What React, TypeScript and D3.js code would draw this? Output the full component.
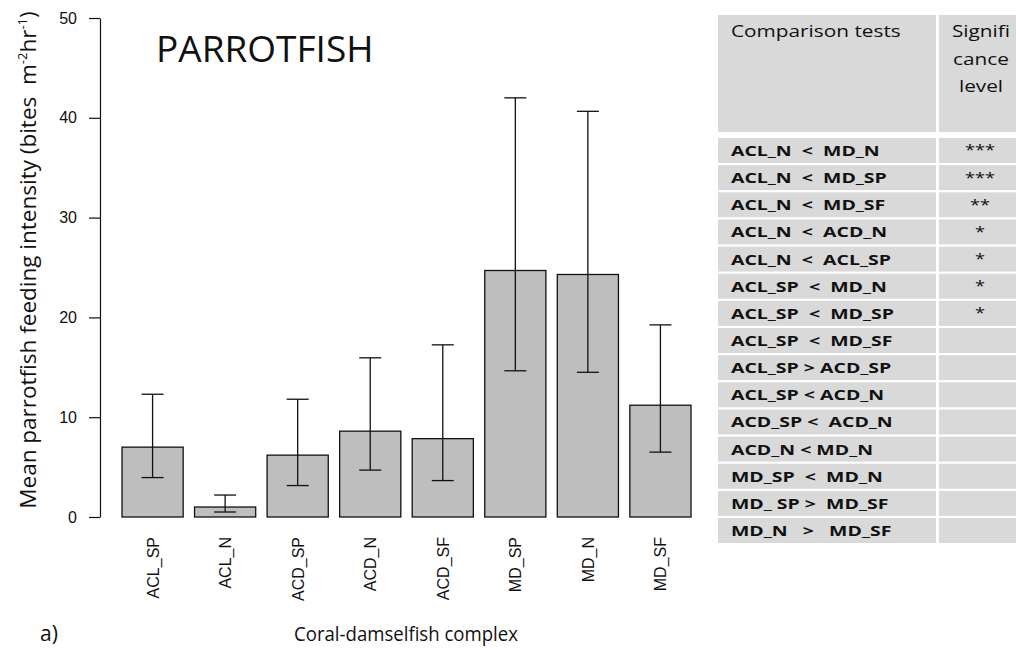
import { useEffect, useRef } from "react";
import * as d3 from "d3";

const categories = ["ACL_SP", "ACL_N", "ACD_SP", "ACD_N", "ACD_SF", "MD_SP", "MD_N", "MD_SF"];
const means = [7.0, 1.0, 6.2, 8.6, 7.85, 24.7, 24.3, 11.2];
const lowerErr = [3.95, 0.5, 3.15, 4.7, 3.65, 14.65, 14.5, 6.5];
const upperErr = [12.3, 2.2, 11.8, 15.95, 17.25, 42.0, 40.65, 19.25];
const yTicks = [0, 10, 20, 30, 40, 50];

const comparisons = [
  "ACL_N  <  MD_N",
  "ACL_N  <  MD_SP",
  "ACL_N  <  MD_SF",
  "ACL_N  <  ACD_N",
  "ACL_N  <  ACL_SP",
  "ACL_SP  <  MD_N",
  "ACL_SP  <  MD_SP",
  "ACL_SP  <  MD_SF",
  "ACL_SP > ACD_SP",
  "ACL_SP < ACD_N",
  "ACD_SP <  ACD_N",
  "ACD_N < MD_N",
  "MD_SP  <  MD_N",
  "MD_ SP >  MD_SF",
  "MD_N   >   MD_SF",
];
const significance = ["***", "***", "**", "*", "*", "*", "*", "", "", "", "", "", "", "", ""];
const headerLines = ["Signifi", "cance", "level"];

const W = 1016;
const H = 654;
const FONT = "'Open Sans', sans-serif";
const ARIAL = "'Liberation Sans', Arial, sans-serif";
// the table text in the original is a bit wider than Open Sans
const STRETCH = 1.3;

export default function App() {
  const svgRef = useRef<SVGSVGElement>(null);

  useEffect(() => {
    if (!svgRef.current) return;
    const svg = d3.select(svgRef.current);
    svg.selectAll("*").remove();

    const x = d3.scaleBand<string>().domain(categories).range([122, 691]).paddingInner(0.157);
    const y = d3.scaleLinear().domain([0, 50]).range([517, 18]);

    // bars
    svg.append("g")
      .selectAll("rect")
      .data(categories)
      .join("rect")
      .attr("x", (d) => x(d)!)
      .attr("y", (_, i) => y(means[i]))
      .attr("width", x.bandwidth())
      .attr("height", (_, i) => y(0) - y(means[i]))
      .attr("fill", "#bebebe")
      .attr("stroke", "#111")
      .attr("stroke-width", 1.3);

    // error bars
    const eb = svg.append("g").attr("stroke", "#111").attr("stroke-width", 1.3);
    categories.forEach((c, i) => {
      const cx = x(c)! + x.bandwidth() / 2;
      eb.append("line").attr("x1", cx).attr("x2", cx).attr("y1", y(lowerErr[i])).attr("y2", y(upperErr[i]));
      [lowerErr[i], upperErr[i]].forEach((v) => {
        eb.append("line").attr("x1", cx - 11).attr("x2", cx + 11).attr("y1", y(v)).attr("y2", y(v));
      });
    });

    // y axis
    const ya = svg.append("g")
      .attr("transform", "translate(100,0)")
      .call(d3.axisLeft(y).tickValues(yTicks).tickSize(11).tickSizeOuter(0).tickPadding(12));
    ya.select(".domain").attr("stroke", "#111").attr("stroke-width", 1.2);
    ya.selectAll(".tick line").attr("stroke", "#111").attr("stroke-width", 1.2);
    ya.selectAll(".tick text").attr("font-family", ARIAL).attr("font-size", 16).attr("fill", "#111");

    // x labels
    svg.append("g")
      .selectAll("text")
      .data(categories)
      .join("text")
      .attr("transform", (d) => `translate(${x(d)! + x.bandwidth() / 2 + 6},537) rotate(-90)`)
      .attr("text-anchor", "end")
      .attr("font-family", ARIAL)
      .attr("font-size", 16)
      .attr("fill", "#111")
      .text((d) => d);

    // y label
    const yl = svg.append("text")
      .attr("transform", "translate(36,260) rotate(-90)")
      .attr("text-anchor", "middle")
      .attr("font-family", FONT)
      .attr("font-size", 22.5)
      .attr("fill", "#111")
      .style("white-space", "pre");
    yl.append("tspan").text("Mean parrotfish feeding intensity (bites  m");
    yl.append("tspan").attr("font-size", 13).attr("dy", -9).text("-2");
    yl.append("tspan").attr("dy", 9).text("hr");
    yl.append("tspan").attr("font-size", 13).attr("dy", -9).text("-1");
    yl.append("tspan").attr("dy", 9).text(")");

    // title and captions
    svg.append("text").attr("x", 156).attr("y", 62).attr("font-family", FONT)
      .attr("font-size", 37).attr("fill", "#111").text("PARROTFISH");
    svg.append("text").attr("transform", "translate(406,641) scale(0.93,1)").attr("text-anchor", "middle")
      .attr("font-family", FONT).attr("font-size", 20).attr("fill", "#111").text("Coral-damselfish complex");
    svg.append("text").attr("x", 40).attr("y", 641).attr("font-family", FONT)
      .attr("font-size", 21).attr("fill", "#111").text("a)");

    // table
    const tx0 = 718, tx1 = 936, tx2 = 939, tx3 = 1016;
    const rowY = d3.scaleBand<number>().domain(d3.range(comparisons.length)).range([138, 543]).paddingInner(0.08);
    const tbl = svg.append("g");
    const stretched = (px: number, py: number) => `translate(${px},${py}) scale(${STRETCH},1)`;

    tbl.append("rect").attr("x", tx0).attr("y", 15).attr("width", tx1 - tx0).attr("height", 117).attr("fill", "#d9d9d9");
    tbl.append("rect").attr("x", tx2).attr("y", 15).attr("width", tx3 - tx2).attr("height", 117).attr("fill", "#d9d9d9");
    tbl.append("text").attr("transform", stretched(731, 37)).attr("font-family", FONT).attr("font-size", 16)
      .attr("fill", "#111").text("Comparison tests");
    headerLines.forEach((t, i) => {
      tbl.append("text").attr("transform", stretched(981, 37 + i * 27.5)).attr("text-anchor", "middle")
        .attr("font-family", FONT).attr("font-size", 16).attr("fill", "#111").text(t);
    });
    comparisons.forEach((c, i) => {
      const ry = rowY(i)!;
      const h = rowY.bandwidth();
      tbl.append("rect").attr("x", tx0).attr("y", ry).attr("width", tx1 - tx0).attr("height", h).attr("fill", "#d9d9d9");
      tbl.append("rect").attr("x", tx2).attr("y", ry).attr("width", tx3 - tx2).attr("height", h).attr("fill", "#d9d9d9");
      tbl.append("text").attr("transform", stretched(731, ry + h / 2 + 5.5)).attr("font-family", FONT)
        .attr("font-weight", "bold").attr("font-size", 15).attr("fill", "#111")
        .style("white-space", "pre").text(c);
      if (significance[i]) {
        tbl.append("text").attr("transform", stretched(980, ry + h / 2 + 5)).attr("text-anchor", "middle")
          .attr("font-family", FONT).attr("font-size", 14).attr("fill", "#111").text(significance[i]);
      }
    });
  }, []);

  return (
    <div style={{ position: "absolute", left: 0, top: 0 }}>
      <svg ref={svgRef} width={W} height={H} style={{ display: "block", background: "#fff" }} />
    </div>
  );
}
